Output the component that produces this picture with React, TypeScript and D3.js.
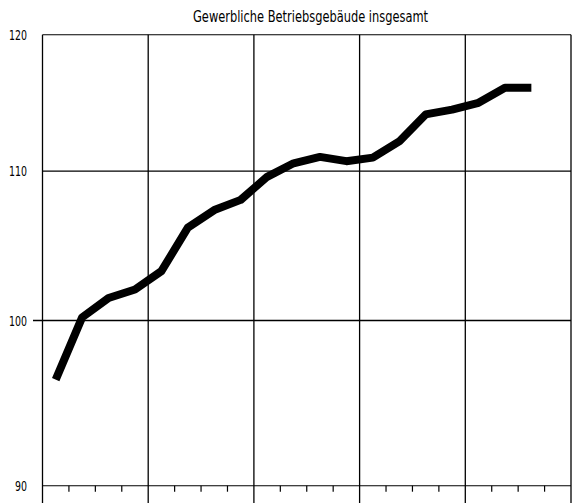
import React from "react";
import * as d3 from "d3";

const title = "Gewerbliche Betriebsgebäude insgesamt";
const quarters = d3.range(19);
const values = [96.3, 100.2, 101.45, 102.0, 103.2, 106.1, 107.3, 108.0, 109.6, 110.55, 111.0, 110.7, 110.95, 112.1, 114.05, 114.4, 114.9, 116.0, 116.0];
const yTicks = [90, 100, 110, 120];
const majorX = [0, 4, 8, 12, 16, 20];
const minorX = d3.range(0, 21).filter((d) => d % 4 !== 0);

const W = 572;
const H = 503;
const left = 42.5;
const right = 571;
const top = 34.7;
const bottom = 485.7;

export default function App() {
  const x = d3.scaleLinear().domain([0, 20]).range([left, right]);
  const y = d3.scaleLog().domain([90, 120]).range([bottom, top]);
  const line = d3
    .line<number>()
    .x((_, i) => x(quarters[i] + 0.5))
    .y((d) => y(d));
  const font = "'DejaVu Sans Condensed', 'Liberation Sans Narrow', sans-serif";
  return (
    <svg width={W} height={H} style={{ position: "absolute", left: 0, top: 0, background: "#fff" }}>
      <rect x={0} y={0} width={W} height={H} fill="#fff" />
      <text
        x={193}
        y={22}
        fontFamily={font}
        fontSize={15}
        textLength={235}
        lengthAdjust="spacingAndGlyphs"
        fill="#000"
      >
        {title}
      </text>
      {yTicks.map((t) => (
        <g key={t}>
          <line
            x1={t === 100 ? 33 : left}
            x2={right}
            y1={y(t)}
            y2={y(t)}
            stroke="#000"
            strokeWidth={t === 100 ? 1.6 : 1.1}
          />
          <text
            x={27 - String(t).length * 6}
            y={y(t) + 5}
            fontFamily={font}
            fontSize={14}
            textLength={String(t).length * 6}
            lengthAdjust="spacingAndGlyphs"
            fill="#000"
          >
            {t}
          </text>
        </g>
      ))}
      {majorX.map((q) => (
        <line key={q} x1={x(q)} x2={x(q)} y1={top} y2={H} stroke="#000" strokeWidth={1.3} />
      ))}
      {minorX.map((q) => (
        <line key={q} x1={x(q)} x2={x(q)} y1={bottom} y2={bottom + 6} stroke="#000" strokeWidth={1.2} />
      ))}
      <path d={line(values) || ""} fill="none" stroke="#000" strokeWidth={8} strokeLinejoin="round" strokeLinecap="butt" />
    </svg>
  );
}
